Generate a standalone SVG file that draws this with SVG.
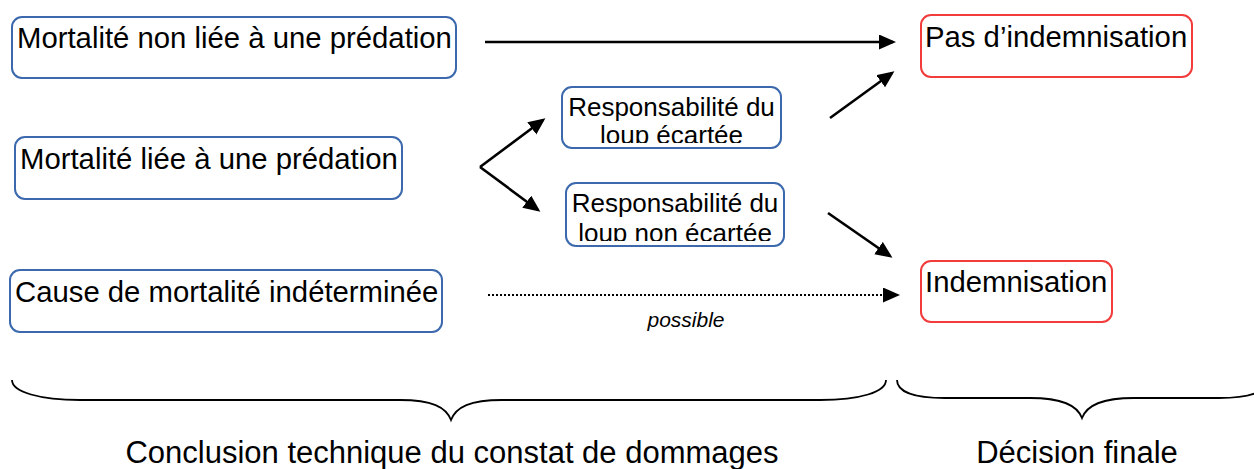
<svg xmlns="http://www.w3.org/2000/svg" width="1254" height="469" viewBox="0 0 1254 469">
<style>
.txt{font-family:"Liberation Sans",Arial,sans-serif;fill:#000}
.big{font-size:29.3px}
.mid{font-size:26px}
.lbl{font-size:31px}
.it{font-size:21px;font-style:italic}
.bbox{fill:#fff;stroke:#3c69ad;stroke-width:2}
.rbox{fill:#fff;stroke:#f23c3c;stroke-width:2}
.ln{stroke:#000;stroke-width:2.6;fill:none}
.dot{stroke:#000;stroke-width:2;fill:none;stroke-dasharray:2 2}
.brace{stroke:#000;stroke-width:1.8;fill:none}
</style>
<defs>
<marker id="ah" markerUnits="userSpaceOnUse" markerWidth="18" markerHeight="16" refX="14" refY="7.5" orient="auto">
<path d="M0,0 L17,7.5 L0,15 z" fill="#000"/>
</marker>
<clipPath id="c1"><rect x="562" y="87" width="219" height="56"/></clipPath>
<clipPath id="c2"><rect x="566" y="183" width="218" height="58"/></clipPath>
</defs>

<g id="n-non-predation">
<rect class="bbox" x="12" y="17" width="444" height="61" rx="10"/>
<text class="txt big" x="17" y="48">Mortalité non liée à une prédation</text>
</g>
<g id="n-predation">
<rect class="bbox" x="15" y="137" width="387" height="62" rx="10"/>
<text class="txt big" x="20" y="169">Mortalité liée à une prédation</text>
</g>
<g id="n-indeterminee">
<rect class="bbox" x="10" y="270" width="432" height="62" rx="10"/>
<text class="txt big" x="15" y="302">Cause de mortalité indéterminée</text>
</g>
<g id="n-ecartee">
<rect class="bbox" x="562" y="87" width="219" height="61" rx="10"/>
<g clip-path="url(#c1)">
<text class="txt mid" x="671.5" y="116" text-anchor="middle">Responsabilité du</text>
<text class="txt mid" x="671.5" y="144" text-anchor="middle">loup écartée</text>
</g>
</g>
<g id="n-non-ecartee">
<rect class="bbox" x="566" y="183" width="218" height="63" rx="10"/>
<g clip-path="url(#c2)">
<text class="txt mid" x="675" y="212" text-anchor="middle">Responsabilité du</text>
<text class="txt mid" x="675" y="242" text-anchor="middle">loup non écartée</text>
</g>
</g>
<g id="n-pas-indemnisation">
<rect class="rbox" x="921" y="15" width="271" height="62" rx="10"/>
<text class="txt big" x="925" y="47">Pas d’indemnisation</text>
</g>
<g id="n-indemnisation">
<rect class="rbox" x="921" y="261" width="191" height="61" rx="10"/>
<text class="txt big" x="925" y="292">Indemnisation</text>
</g>

<g id="connectors">
<line class="ln" x1="485" y1="42" x2="893" y2="42" marker-end="url(#ah)"/>
<line class="ln" x1="480" y1="167" x2="543" y2="120" marker-end="url(#ah)"/>
<line class="ln" x1="480" y1="167" x2="538" y2="210" marker-end="url(#ah)"/>
<line class="ln" x1="830" y1="118" x2="892" y2="73" marker-end="url(#ah)"/>
<line class="ln" x1="828" y1="213" x2="890" y2="256" marker-end="url(#ah)"/>
<line class="dot" x1="488" y1="295" x2="897" y2="295" marker-end="url(#ah)"/>
<text class="txt it" x="686" y="327" text-anchor="middle">possible</text>
</g>

<g id="braces">
<path class="brace" d="M12,380 C12,392 40,400 80,400 L400,400 C432,400 446,407 451,420 C456,407 470,400 502,400 L820,400 C860,400 886,392 886,380"/>
<path class="brace" d="M897,380 C897,392 915,398 945,398 L1030,398 C1062,398 1077,405 1082,418 C1087,405 1102,398 1134,398 L1219,398 C1249,398 1267,392 1267,380"/>
<text class="txt lbl" x="452" y="463" text-anchor="middle">Conclusion technique du constat de dommages</text>
<text class="txt lbl" x="1077" y="463" text-anchor="middle">Décision finale</text>
</g>
</svg>
